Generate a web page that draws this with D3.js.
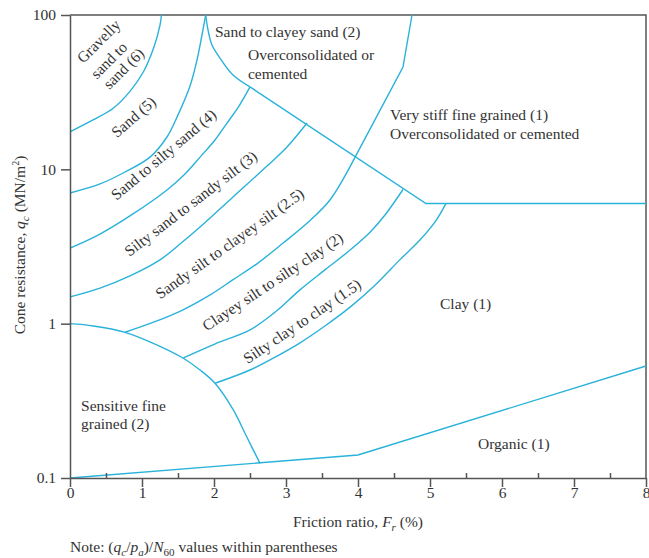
<!DOCTYPE html>
<html>
<head>
<meta charset="utf-8">
<script src="https://cdn.jsdelivr.net/npm/d3@7/dist/d3.min.js"></script>
<style>
  html, body { margin: 0; padding: 0; background: #fff; }
  svg { display: block; }
  text { font-family: "Liberation Serif", "DejaVu Serif", serif; fill: #333; }
</style>
</head>
<body>
<svg id="chart" width="649" height="558"></svg>
<script>
// ---- Axis ticks ----
const xTicks = [0, 1, 2, 3, 4, 5, 6, 7, 8];
const xMinorTicks = [0.5, 1.5, 2.5, 3.5, 4.5, 5.5, 6.5, 7.5];
const yTicks = [0.1, 1, 10, 100];
const yTickLabels = ["0.1", "1", "10", "100"];

// ---- Zone boundaries: [friction ratio %, cone resistance MN/m2] ----
const boundaryGravellySand = [[0, 17.5], [0.32, 20.9], [0.6, 24.9], [0.83, 31.9], [1.02, 42.9], [1.16, 60.8], [1.25, 86], [1.27, 100]];
const boundarySandSiltySand = [[0, 7.03], [0.417, 8.04], [0.764, 9.61], [1.111, 12.0], [1.347, 16.2], [1.486, 21.8], [1.667, 34.7], [1.764, 51.1], [1.833, 74.2], [1.885, 100]];
const boundarySiltySandSandySilt = [[0, 3.09], [0.417, 3.81], [0.875, 5.14], [1.347, 7.35], [1.597, 9.33], [1.806, 12.0], [2.014, 15.5], [2.181, 19.95], [2.347, 25.7], [2.5, 34.2]];
const boundarySandySiltClayeySilt = [[0, 1.49], [0.417, 1.70], [0.833, 2.04], [1.25, 2.59], [1.528, 3.28], [1.806, 4.23], [2.264, 6.62], [2.736, 10.5], [3.014, 13.96], [3.292, 19.95]];
const boundaryClayeySilt = [[0.764, 0.88], [1.18, 1.03], [1.57, 1.23], [1.94, 1.53], [2.26, 1.92], [2.61, 2.47], [2.96, 3.33], [3.31, 4.56], [3.61, 6.33], [3.96, 12.0]];
const boundaryVeryStiff = [[3.96, 12.0], [4.625, 46.0], [4.75, 100]];
const boundarySiltyClay = [[1.574, 0.60], [2.01, 0.738], [2.5, 0.91], [2.85, 1.19], [3.19, 1.65], [3.54, 2.23], [3.89, 3.0], [4.17, 3.93], [4.375, 5.06], [4.625, 7.4]];
const boundaryClay = [[2.014, 0.411], [2.5, 0.501], [2.85, 0.608], [3.19, 0.749], [3.54, 0.966], [3.89, 1.28], [4.24, 1.78], [4.58, 2.59], [4.86, 3.48], [5.07, 4.56], [5.22, 6]];
const boundaryOverconsolidatedTop = [[1.885, 100], [1.917, 80], [1.972, 63.9], [2.083, 52.6], [2.264, 40.8], [2.5, 34.2]];
const boundaryOverconsolidatedLow = [[2.5, 34.2], [4.944, 6], [8, 6]];
const boundarySensitive = [[0, 1.0], [0.324, 0.966], [0.764, 0.879], [1.157, 0.746], [1.574, 0.597], [1.806, 0.501], [2.014, 0.411], [2.268, 0.276], [2.454, 0.185], [2.639, 0.1245]];
const boundaryOrganic = [[0, 0.1], [4, 0.141], [8, 0.532]];

// ---- Zone labels ----
const rotatedLabels = [
  { text: "Gravelly", x: 0.403, q: 67.2, angle: -45 },
  { text: "sand to", x: 0.546, q: 50.6, angle: -45 },
  { text: "sand (6)", x: 0.75, q: 44.7, angle: -45 },
  { text: "Sand (5)", x: 0.889, q: 21.7, angle: -41 },
  { text: "Sand to silty sand (4)", x: 1.306, q: 12.4, angle: -40 },
  { text: "Silty sand to sandy silt (3)", x: 1.681, q: 5.96, angle: -37.5 },
  { text: "Sandy silt to clayey silt (2.5)", x: 2.222, q: 3.28, angle: -35.5 },
  { text: "Clayey silt to silty clay (2)", x: 2.819, q: 1.86, angle: -33.5 },
  { text: "Silty clay to clay (1.5)", x: 3.229, q: 1.03, angle: -34 }
];
const flatLabels = [
  { text: "Sand to clayey sand (2)", x: 2.014, q: 72.0 },
  { text: "Overconsolidated or", x: 2.472, q: 51.1 },
  { text: "cemented", x: 2.472, q: 38.5 },
  { text: "Very stiff fine grained (1)", x: 4.444, q: 20.9 },
  { text: "Overconsolidated or cemented", x: 4.444, q: 15.7 },
  { text: "Clay (1)", x: 5.139, q: 1.245 },
  { text: "Sensitive fine", x: 0.153, q: 0.272 },
  { text: "grained (2)", x: 0.153, q: 0.208 },
  { text: "Organic (1)", x: 5.667, q: 0.154 }
];

// ---- Drawing ----
const svg = d3.select("#chart");
const mLeft = 70, mRight = 646, mTop = 15, mBottom = 478;
const x = d3.scaleLinear().domain([0, 8]).range([mLeft, mRight]);
const y = d3.scaleLog().domain([0.1, 100]).range([mBottom, mTop]);

const lineColor = "#29b2da";
const axisColor = "#555";
const fontSize = 15.5;

// frame (top and right)
svg.append("path")
  .attr("d", d3.line()([[x(0), y(100)], [x(8), y(100)], [x(8), y(0.1)]]))
  .attr("fill", "none").attr("stroke", axisColor).attr("stroke-width", 1.5);

// boundaries
const curved = d3.line().x(d => x(d[0])).y(d => y(d[1])).curve(d3.curveCatmullRom.alpha(0.5));
const straight = d3.line().x(d => x(d[0])).y(d => y(d[1]));
const curvedSets = [boundaryGravellySand, boundarySandSiltySand, boundarySiltySandSandySilt,
  boundarySandySiltClayeySilt, boundaryClayeySilt, boundarySiltyClay, boundaryClay,
  boundaryOverconsolidatedTop, boundarySensitive];
const straightSets = [boundaryVeryStiff, boundaryOverconsolidatedLow, boundaryOrganic];
svg.append("g").selectAll("path").data(curvedSets).join("path")
  .attr("d", curved).attr("fill", "none").attr("stroke", lineColor).attr("stroke-width", 1.4);
svg.append("g").selectAll("path").data(straightSets).join("path")
  .attr("d", straight).attr("fill", "none").attr("stroke", lineColor).attr("stroke-width", 1.4);

// axes
const xAxis = svg.append("g").attr("transform", `translate(0,${mBottom})`)
  .call(d3.axisBottom(x).tickValues(xTicks).tickSize(9).tickSizeOuter(0).tickPadding(0).tickFormat(d3.format("d")));
const xMinor = svg.append("g").attr("transform", `translate(0,${mBottom})`)
  .call(d3.axisBottom(x).tickValues(xMinorTicks).tickSize(-5).tickSizeOuter(0).tickFormat(""));
xMinor.select(".domain").remove();
const yAxis = svg.append("g").attr("transform", `translate(${mLeft},0)`)
  .call(d3.axisLeft(y).tickValues(yTicks).tickSize(9).tickSizeOuter(0).tickPadding(5).tickFormat((d, i) => yTickLabels[i]));
[xAxis, xMinor, yAxis].forEach(g => {
  g.selectAll("path, line").attr("stroke", axisColor).attr("stroke-width", 1.5);
  g.selectAll("text").attr("font-family", "Liberation Serif, serif").attr("font-size", fontSize).attr("fill", "#333");
});

// zone labels
svg.append("g").selectAll("text").data(rotatedLabels).join("text")
  .attr("transform", d => `translate(${x(d.x)},${y(d.q)}) rotate(${d.angle})`)
  .attr("text-anchor", "middle").attr("dy", "0.3em")
  .attr("font-size", fontSize).text(d => d.text);
svg.append("g").selectAll("text").data(flatLabels).join("text")
  .attr("x", d => x(d.x)).attr("y", d => y(d.q))
  .attr("font-size", fontSize).text(d => d.text);

// x title
const xt = svg.append("text").attr("x", x(4)).attr("y", 527).attr("text-anchor", "middle").attr("font-size", fontSize);
xt.append("tspan").text("Friction ratio, ");
xt.append("tspan").attr("font-style", "italic").text("F");
xt.append("tspan").attr("font-style", "italic").attr("font-size", 11).attr("dy", 4).text("r");
xt.append("tspan").attr("dy", -4).text(" (%)");

// y title
const yt = svg.append("text").attr("transform", "translate(25,245) rotate(-90)").attr("text-anchor", "middle").attr("font-size", fontSize);
yt.append("tspan").text("Cone resistance, ");
yt.append("tspan").attr("font-style", "italic").text("q");
yt.append("tspan").attr("font-style", "italic").attr("font-size", 11).attr("dy", 4).text("c");
yt.append("tspan").attr("dy", -4).text(" (MN/m");
yt.append("tspan").attr("font-size", 10).attr("dy", -6).text("2");
yt.append("tspan").attr("dy", 6).text(")");

// note
const nt = svg.append("text").attr("x", 70).attr("y", 552).attr("font-size", fontSize);
nt.append("tspan").text("Note: (");
nt.append("tspan").attr("font-style", "italic").text("q");
nt.append("tspan").attr("font-style", "italic").attr("font-size", 11).attr("dy", 4).text("c");
nt.append("tspan").attr("dy", -4).text("/");
nt.append("tspan").attr("font-style", "italic").text("p");
nt.append("tspan").attr("font-style", "italic").attr("font-size", 11).attr("dy", 4).text("a");
nt.append("tspan").attr("dy", -4).text(")/");
nt.append("tspan").attr("font-style", "italic").text("N");
nt.append("tspan").attr("font-size", 11).attr("dy", 4).text("60");
nt.append("tspan").attr("dy", -4).text(" values within parentheses");
</script>
</body>
</html>
